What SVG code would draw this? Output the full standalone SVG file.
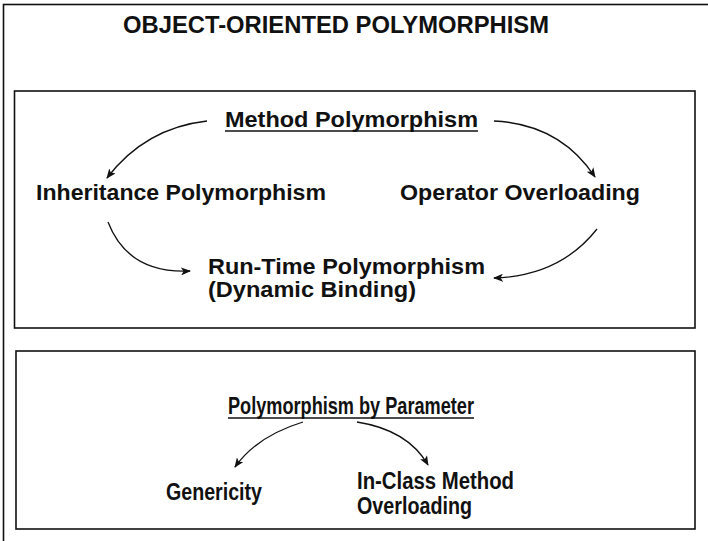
<svg xmlns="http://www.w3.org/2000/svg" width="708" height="541" viewBox="0 0 708 541">
<style>
.frame{fill:none;stroke:#111;stroke-width:1.6}
.t{font-family:"Liberation Sans",Arial,Helvetica,sans-serif;font-weight:bold;fill:#111}
.b1{font-size:22px}
.b2{font-size:23px}
.u{stroke:#111;stroke-width:1.6}
.c{fill:none;stroke:#111;stroke-width:1.3}
</style>
<defs>
<marker id="ah" viewBox="0 0 10 8" refX="9" refY="4" markerWidth="10" markerHeight="8" markerUnits="userSpaceOnUse" orient="auto">
<path d="M0,0 L10,4 L0,8 L2.5,4 Z" fill="#111"/>
</marker>
</defs>
<rect width="708" height="541" fill="#fff"/>
<g id="outer">
<rect class="frame" x="3.5" y="4.5" width="730" height="560"/>
<text class="t" x="123" y="33" font-size="23" textLength="426" lengthAdjust="spacingAndGlyphs">OBJECT-ORIENTED POLYMORPHISM</text>
</g>
<g id="box-method">
<rect class="frame" x="14.5" y="91" width="680.5" height="237"/>
</g>
<g id="box-param">
<rect class="frame" x="16" y="351" width="679" height="178"/>
</g>
<g id="method-polymorphism">
<text class="t b1" x="225" y="127" textLength="253" lengthAdjust="spacingAndGlyphs">Method Polymorphism</text>
<line class="u" x1="225" y1="131" x2="478" y2="131"/>
</g>
<g id="inheritance-polymorphism">
<text class="t b1" x="36" y="200" textLength="290" lengthAdjust="spacingAndGlyphs">Inheritance Polymorphism</text>
</g>
<g id="operator-overloading">
<text class="t b1" x="400" y="200" textLength="240" lengthAdjust="spacingAndGlyphs">Operator Overloading</text>
</g>
<g id="run-time-polymorphism">
<text class="t b1" x="208" y="274" textLength="277" lengthAdjust="spacingAndGlyphs">Run-Time Polymorphism</text>
<text class="t b1" x="208" y="297" textLength="208" lengthAdjust="spacingAndGlyphs">(Dynamic Binding)</text>
</g>
<g id="polymorphism-by-parameter">
<text class="t b2" x="228" y="414" textLength="246" lengthAdjust="spacingAndGlyphs">Polymorphism by Parameter</text>
<line class="u" x1="228" y1="418" x2="474" y2="418"/>
</g>
<g id="genericity">
<text class="t b2" x="166" y="500" textLength="96" lengthAdjust="spacingAndGlyphs">Genericity</text>
</g>
<g id="in-class-method-overloading">
<text class="t b2" x="357" y="489" textLength="157" lengthAdjust="spacingAndGlyphs">In-Class Method</text>
<text class="t b2" x="357" y="514" textLength="115" lengthAdjust="spacingAndGlyphs">Overloading</text>
</g>
<g id="connectors">
<path class="c" d="M207,121 Q145,128 107,178" marker-end="url(#ah)"/>
<path class="c" d="M494,121 Q560,124 595,177" marker-end="url(#ah)"/>
<path class="c" d="M108,222 Q128,274 190,271" marker-end="url(#ah)"/>
<path class="c" d="M597,229 Q560,276 494,278" marker-end="url(#ah)"/>
<path class="c" d="M303,422 Q257,436 235,467" marker-end="url(#ah)"/>
<path class="c" d="M357,422 Q408,430 428,465" marker-end="url(#ah)"/>
</g>
</svg>
